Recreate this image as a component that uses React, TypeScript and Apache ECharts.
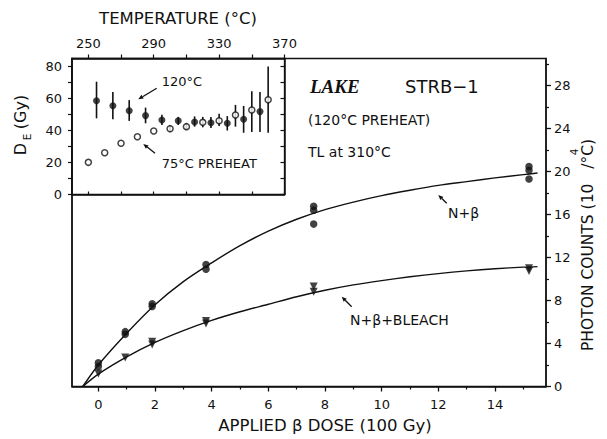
import React, { useEffect, useRef } from "react";
import * as echarts from "echarts";

// ---- Main panel data (applied beta dose in 100 Gy, photon counts in 10^4/°C)
const betaDose = [0, 0, 0.95, 0.95, 1.9, 1.9, 3.8, 3.8, 7.6, 7.6, 7.6, 15.2, 15.2, 15.2];
const betaCounts = [1.85, 2.2, 4.85, 5.1, 7.45, 7.7, 10.9, 11.35, 16.4, 16.75, 15.1, 20.1, 20.45, 19.3];
const bleachDose = [0, 0.95, 1.9, 1.9, 3.8, 3.8, 7.6, 7.6, 15.2, 15.2];
const bleachCounts = [1.2, 2.7, 3.9, 4.15, 5.85, 6.1, 8.8, 9.3, 10.75, 11.0];

// fitted growth curves
const fitDose = [-0.55, 0, 1, 2, 3, 4, 5, 6, 7, 8, 9, 10, 11, 12, 13, 14, 15, 15.5];
const fitBeta = [0, 2.0, 4.95, 7.6, 9.75, 11.5, 13.1, 14.45, 15.55, 16.45, 17.15, 17.75, 18.25, 18.7, 19.05, 19.4, 19.7, 19.85];
const fitBleach = [0, 1.15, 2.75, 4.1, 5.2, 6.15, 6.95, 7.65, 8.35, 8.95, 9.45, 9.85, 10.2, 10.5, 10.75, 10.95, 11.1, 11.15];

// ---- Inset data (temperature °C, equivalent dose Gy)
const temp120 = [255, 265, 275, 285, 295, 305, 315, 325, 335, 345, 355];
const de120 = [58.6, 55.5, 52.4, 49.3, 46.6, 46.1, 45.3, 44.8, 44.5, 47, 51.8];
const lo120 = [47.6, 47, 46, 44.5, 43.4, 43.5, 42.4, 41.5, 40, 38.6, 39];
const hi120 = [70.5, 64, 59, 54.3, 49.8, 48.5, 48.8, 48.5, 49, 55.3, 64];

const temp75 = [250, 260, 270, 280, 290, 300, 310, 320, 330, 340, 350, 360];
const de75 = [20.1, 26.1, 32, 36.1, 39.7, 41.1, 42.4, 45.1, 46.1, 49.7, 52.8, 59.2];
const lo75 = [20.1, 26.1, 32, 36.1, 39.7, 39, 40.5, 42, 42.8, 42.4, 39, 38.6];
const hi75 = [20.1, 26.1, 32, 36.1, 39.7, 43.5, 44.5, 48.5, 50.5, 56, 64.5, 80];

// ---- Tick values
const doseTicks = [0, 2, 4, 6, 8, 10, 12, 14];
const doseMinor = [1, 3, 5, 7, 9, 11, 13, 15];
const photonTicks = [0, 4, 8, 12, 16, 20, 24, 28];
const photonMinor = [2, 6, 10, 14, 18, 22, 26, 30];
const tempTicks = [250, 270, 290, 310, 330, 350, 370];
const tempLabels = [250, 290, 330, 370];
const deTicks = [0, 10, 20, 30, 40, 50, 60, 70, 80];
const deLabels = [0, 20, 40, 60, 80];

const FONT = "DejaVu Sans";
const BLACK = "#111";

function arrow(x1: number, y1: number, x2: number, y2: number) {
  const ang = Math.atan2(y2 - y1, x2 - x1);
  const L = 5;
  const W = 2.2;
  const bx = x2 - L * Math.cos(ang);
  const by = y2 - L * Math.sin(ang);
  const nx = -Math.sin(ang) * W;
  const ny = Math.cos(ang) * W;
  return [
    { type: "line", shape: { x1, y1, x2: bx, y2: by }, style: { stroke: BLACK, lineWidth: 1.3 } },
    {
      type: "polygon",
      shape: { points: [[x2, y2], [bx + nx, by + ny], [bx - nx, by - ny]] },
      style: { fill: BLACK },
    },
  ];
}

function txt(x: number, y: number, text: string, size: number, extra: any = {}) {
  return {
    type: "text",
    x,
    y,
    rotation: extra.rotation || 0,
    style: {
      text,
      fill: BLACK,
      fontSize: size,
      fontFamily: extra.fontFamily || FONT,
      fontWeight: extra.fontWeight || "normal",
      fontStyle: extra.fontStyle || "normal",
      align: extra.align || "left",
      verticalAlign: "middle",
    },
  };
}

export default function App() {
  const ref = useRef<HTMLDivElement>(null);
  useEffect(() => {
    if (!ref.current) return;
    const chart = echarts.init(ref.current, null, { renderer: "svg" });
    const axisLineStyle = { color: BLACK, width: 1.5 };
    const labelStyle = { color: BLACK, fontSize: 13, fontFamily: FONT };

    const errData = (t: number[], lo: number[], hi: number[]) => t.map((v, i) => [v, lo[i], hi[i]]);

    const option: any = {
      animation: false,
      backgroundColor: "#fff",
      grid: [
        { left: 72, top: 58.5, width: 474, height: 328, show: true, borderColor: BLACK, borderWidth: 1.3, backgroundColor: "transparent" },
        { left: 72, top: 58.5, width: 212.5, height: 136, show: true, borderColor: BLACK, borderWidth: 1.3, backgroundColor: "#fff" },
      ],
      xAxis: [
        {
          gridIndex: 0, type: "value", min: -0.93, max: 15.8, position: "bottom",
          axisLine: { onZero: false, lineStyle: axisLineStyle },
          axisTick: { customValues: doseTicks, length: 5, lineStyle: { color: BLACK, width: 1.3 } },
          axisLabel: { customValues: doseTicks, margin: 11, ...labelStyle },
          splitLine: { show: false },
        },
        {
          gridIndex: 0, type: "value", min: -0.93, max: 15.8, position: "bottom",
          axisLine: { show: false, onZero: false },
          axisTick: { customValues: doseMinor, length: 3, lineStyle: { color: BLACK, width: 1.2 } },
          axisLabel: { show: false },
          splitLine: { show: false },
        },
        {
          gridIndex: 1, type: "value", min: 240, max: 370, position: "top",
          axisLine: { onZero: false, lineStyle: axisLineStyle },
          axisTick: { customValues: tempTicks, length: 4, lineStyle: { color: BLACK, width: 1.2 } },
          axisLabel: { customValues: tempLabels, margin: 9, ...labelStyle },
          splitLine: { show: false },
        },
        {
          gridIndex: 1, type: "value", min: 240, max: 370, position: "bottom",
          axisLine: { onZero: false, lineStyle: axisLineStyle },
          axisTick: { customValues: tempTicks, length: 3, inside: true, lineStyle: { color: BLACK, width: 1.2 } },
          axisLabel: { show: false },
          splitLine: { show: false },
        },
      ],
      yAxis: [
        {
          gridIndex: 0, type: "value", min: 0, max: 30.5, position: "right",
          axisLine: { show: true, onZero: false, lineStyle: axisLineStyle },
          axisTick: { show: true, customValues: photonTicks, length: 5, lineStyle: { color: BLACK, width: 1.3 } },
          axisLabel: { customValues: photonTicks, margin: 8, ...labelStyle },
          splitLine: { show: false },
        },
        {
          gridIndex: 0, type: "value", min: 0, max: 30.5, position: "right",
          axisLine: { show: false, onZero: false },
          axisTick: { show: true, customValues: photonMinor, length: 3, lineStyle: { color: BLACK, width: 1.2 } },
          axisLabel: { show: false },
          splitLine: { show: false },
        },
        {
          gridIndex: 0, type: "value", min: 0, max: 30.5, position: "left",
          axisLine: { show: true, onZero: false, lineStyle: axisLineStyle },
          axisTick: { show: false },
          axisLabel: { show: false },
          splitLine: { show: false },
        },
        {
          gridIndex: 1, type: "value", min: 0, max: 85, position: "left",
          axisLine: { show: true, onZero: false, lineStyle: axisLineStyle },
          axisTick: { show: true, customValues: deTicks, length: 4, lineStyle: { color: BLACK, width: 1.2 } },
          axisLabel: { customValues: deLabels, margin: 10, ...labelStyle },
          splitLine: { show: false },
        },
        {
          gridIndex: 1, type: "value", min: 0, max: 85, position: "right",
          axisLine: { show: true, onZero: false, lineStyle: axisLineStyle },
          axisTick: { show: true, inside: true, customValues: deTicks, length: 4, lineStyle: { color: BLACK, width: 1.2 } },
          axisLabel: { show: false },
          splitLine: { show: false },
        },
      ],
      series: [
        {
          type: "line", xAxisIndex: 0, yAxisIndex: 0, smooth: 0.3,
          showSymbol: false, symbol: "none",
          data: fitDose.map((d, i) => [d, fitBeta[i]]),
          lineStyle: { color: BLACK, width: 1.4 },
        },
        {
          type: "line", xAxisIndex: 0, yAxisIndex: 0, smooth: 0.3,
          showSymbol: false, symbol: "none",
          data: fitDose.map((d, i) => [d, fitBleach[i]]),
          lineStyle: { color: BLACK, width: 1.4 },
        },
        {
          type: "scatter", xAxisIndex: 0, yAxisIndex: 0, symbol: "circle", symbolSize: 7.5,
          data: betaDose.map((d, i) => [d, betaCounts[i]]),
          itemStyle: { color: BLACK },
        },
        {
          type: "scatter", xAxisIndex: 0, yAxisIndex: 0, symbol: "triangle", symbolRotate: 180, symbolSize: 8,
          data: bleachDose.map((d, i) => [d, bleachCounts[i]]),
          itemStyle: { color: BLACK },
        },
        {
          type: "custom", xAxisIndex: 2, yAxisIndex: 3,
          data: [...errData(temp120, lo120, hi120), ...errData(temp75, lo75, hi75)],
          encode: { x: 0, y: [1, 2] },
          renderItem: (params: any, api: any) => {
            const x = api.value(0);
            const p1 = api.coord([x, api.value(1)]);
            const p2 = api.coord([x, api.value(2)]);
            return {
              type: "line",
              shape: { x1: p1[0], y1: p1[1], x2: p2[0], y2: p2[1] },
              style: { stroke: BLACK, lineWidth: 1.6 },
            };
          },
        },
        {
          type: "scatter", xAxisIndex: 2, yAxisIndex: 3, symbol: "circle", symbolSize: 7,
          data: temp120.map((t, i) => [t, de120[i]]),
          itemStyle: { color: BLACK },
        },
        {
          type: "scatter", xAxisIndex: 2, yAxisIndex: 3, symbol: "circle", symbolSize: 6,
          data: temp75.map((t, i) => [t, de75[i]]),
          itemStyle: { color: "#fff", borderColor: BLACK, borderWidth: 1.5 },
        },
      ],
      graphic: [
        // inset annotations
        txt(161.7, 81.7, "120°C", 13),
        ...arrow(156.7, 88.3, 138.3, 99.3),
        txt(161.7, 163.3, "75°C PREHEAT", 13),
        ...arrow(155, 153.3, 143.3, 144),
        // main annotations
        txt(310, 86.7, "LAKE", 19, { fontFamily: "Liberation Serif", fontWeight: "bold", fontStyle: "italic" }),
        txt(405, 86.7, "STRB−1", 18),
        txt(308, 120, "(120°C PREHEAT)", 14),
        txt(308, 151.7, "TL at 310°C", 14),
        txt(448, 213.3, "N+β", 14),
        ...arrow(446.7, 203.3, 438.3, 195),
        txt(350, 320, "N+β+BLEACH", 14),
        ...arrow(351.7, 306.7, 341.7, 296.7),
        // axis titles
        txt(325, 425, "APPLIED β DOSE (100 Gy)", 16.5, { align: "center" }),
        txt(178, 18, "TEMPERATURE (°C)", 16.5, { align: "center" }),
        txt(588, 245, "PHOTON COUNTS (10   /°C)", 15.5, { rotation: Math.PI / 2, align: "center" }),
        txt(574, 152, "4", 10.5, { rotation: Math.PI / 2, align: "center" }),
        txt(20, 149, "D", 16, { rotation: Math.PI / 2, align: "center" }),
        txt(27, 137, "E", 10.5, { rotation: Math.PI / 2, align: "center" }),
        txt(20, 112, "(Gy)", 16, { rotation: Math.PI / 2, align: "center" }),
      ],
    };
    chart.setOption(option);
    return () => chart.dispose();
  }, []);
  return <div ref={ref} style={{ width: 607, height: 439, position: "absolute", left: 0, top: 0 }} />;
}
